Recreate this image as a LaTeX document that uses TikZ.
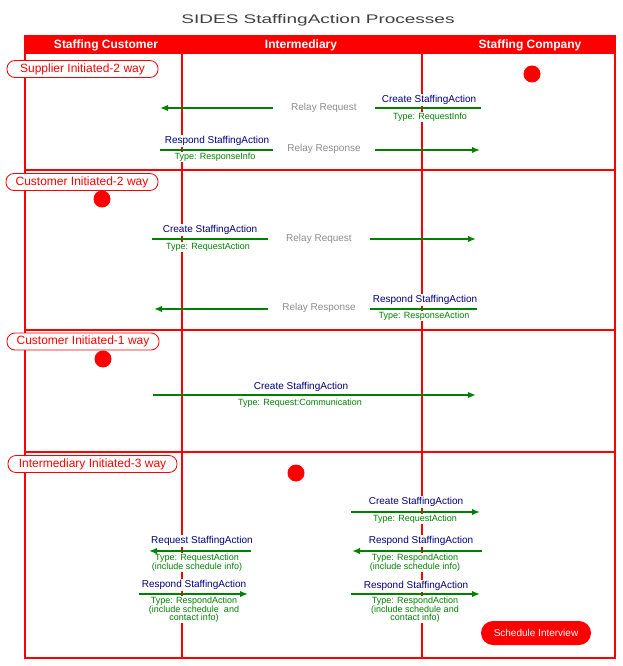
\documentclass[tikz,border=0pt]{standalone}
\usepackage{fontspec}
\setmainfont{Liberation Sans}
\usetikzlibrary{arrows.meta}
\definecolor{navyc}{RGB}{0,0,128}
\definecolor{msggreen}{RGB}{0,128,0}
\definecolor{relaygray}{RGB}{140,140,140}
\definecolor{purered}{RGB}{255,0,0}
\begin{document}
\begin{tikzpicture}[x=1pt,y=-1pt,
  frame/.style={draw=purered, line width=2pt},
  msg/.style={draw=msggreen, line width=2pt},
  msgarrow/.style={msg, -{Latex[length=8pt,width=6.5pt]}},
  lbl/.style={text=navyc, fill=white, inner xsep=1pt, inner ysep=1pt, font=\fontsize{10}{11}\selectfont},
  typ/.style={text=msggreen, fill=white, inner xsep=1pt, inner ysep=1pt, align=center, font=\fontsize{9}{8.4}\selectfont},
  relay/.style={text=relaygray, inner sep=0pt, minimum height=10pt, minimum width=102pt, font=\fontsize{10}{11}\selectfont},
  sect/.style={draw=purered, line width=0.8pt, fill=white, text=purered, rounded corners=8pt, minimum height=17pt, inner xsep=6pt, inner ysep=1pt, font=\fontsize{12}{13}\selectfont},
  hdr/.style={text=white, font=\bfseries\fontsize{12}{13}\selectfont, inner sep=0pt},
  dot/.style={circle, fill=purered, minimum size=17pt, inner sep=0pt},
  pill/.style={fill=purered, text=white, rounded corners=12pt, minimum width=110pt, minimum height=24pt, inner sep=0pt, font=\fontsize{10}{11}\selectfont}
]
\useasboundingbox (0,0) rectangle (623,666);

% title
\node (title) at (318,20) {\fontsize{12.5}{14}\selectfont\color{black!75}\scalebox{1.52}[1]{SIDES StaffingAction Processes}};

% header bar and frame
\fill[purered] (25,35) rectangle (615,54);
\node[hdr] (h1) at (106,45) {Staffing Customer};
\node[hdr] (h2) at (301,45) {Intermediary};
\node[hdr] (h3) at (530,45) {Staffing Company};
\draw[frame] (25,35) -- (25,658) -- (615,658) -- (615,35);
\draw[frame] (182,54) -- (182,658);
\draw[frame] (422,54) -- (422,658);
\draw[frame] (25,170) -- (615,170);
\draw[frame] (25,330) -- (615,330);
\draw[frame] (25,452) -- (615,452);

% section labels
\node[sect, minimum width=151pt] (s1) at (82.5,69) {Supplier Initiated-2 way};
\node[sect, minimum width=152pt] (s2) at (82,182) {Customer Initiated-2 way};
\node[sect, minimum width=152pt] (s3) at (83,341.5) {Customer Initiated-1 way};
\node[sect, minimum width=169pt] (s4) at (92.5,464) {Intermediary Initiated-3 way};

% dots
\node[dot] (d1) at (532,74) {};
\node[dot] (d2) at (102,199) {};
\node[dot] (d3) at (103,359) {};
\node[dot] (d4) at (296,473) {};

% ---------- section 1 ----------
\coordinate (c1a) at (481,108);
\coordinate (c1b) at (160,108);
\node[lbl] (l1a) at (429,100) {Create StaffingAction};
\node[typ] (t1a) at (430,117) {Type: RequestInfo};
\node[relay] (r1a) at (324,108) {Relay Request};
\draw[msg] (c1a) -- (r1a.east);
\draw[msgarrow] (r1a.west) -- (c1b);

\coordinate (c1c) at (160,150);
\coordinate (c1d) at (480,150);
\node[lbl] (l1b) at (217,141) {Respond StaffingAction};
\node[typ] (t1b) at (215,157) {Type: ResponseInfo};
\node[relay] (r1b) at (324,149) {Relay Response};
\draw[msg] (c1c) -- (r1b.west |- c1c);
\draw[msgarrow] (r1b.east |- c1c) -- (c1d);

% ---------- section 2 ----------
\coordinate (c2a) at (152,239);
\coordinate (c2b) at (476,239);
\node[lbl] (l2a) at (210,230) {Create StaffingAction};
\node[typ] (t2a) at (208,247) {Type: RequestAction};
\node[relay] (r2a) at (319,239) {Relay Request};
\draw[msg] (c2a) -- (r2a.west);
\draw[msgarrow] (r2a.east) -- (c2b);

\coordinate (c2c) at (477,309);
\coordinate (c2d) at (154,309);
\node[lbl] (l2b) at (425,300) {Respond StaffingAction};
\node[typ] (t2b) at (424,316) {Type: ResponseAction};
\node[relay] (r2b) at (319,308) {Relay Response};
\draw[msg] (c2c) -- (r2b.east |- c2c);
\draw[msgarrow] (r2b.west |- c2c) -- (c2d);

% ---------- section 3 ----------
\coordinate (c3a) at (153,395);
\coordinate (c3b) at (476,395);
\node[lbl] (l3a) at (301,387) {Create StaffingAction};
\node[typ] (t3a) at (300,403) {Type: Request:Communication};
\draw[msgarrow] (c3a) -- (c3b);

% ---------- section 4 ----------
\coordinate (c4a) at (251,551);
\coordinate (c4b) at (149,551);
\node[lbl] (l4a) at (202,541) {Request StaffingAction};
\node[typ, anchor=north] (t4a) at (197,553) {Type: RequestAction\\(include schedule info)};
\draw[msgarrow] (c4a) -- (c4b);

\coordinate (c4c) at (139,594);
\coordinate (c4d) at (248,594);
\node[lbl] (l4b) at (194,585) {Respond StaffingAction};
\node[typ, anchor=north] (t4b) at (194,596) {Type: RespondAction\\(include schedule\ \ and\\contact info)};
\draw[msgarrow] (c4c) -- (c4d);

\coordinate (c4e) at (351,512);
\coordinate (c4f) at (480,512);
\node[lbl] (l4c) at (416,502) {Create StaffingAction};
\node[typ] (t4c) at (415,519) {Type: RequestAction};
\draw[msgarrow] (c4e) -- (c4f);

\coordinate (c4g) at (482,551);
\coordinate (c4h) at (352,551);
\node[lbl] (l4d) at (421,541) {Respond StaffingAction};
\node[typ, anchor=north] (t4d) at (415,553) {Type: RespondAction\\(include schedule info)};
\draw[msgarrow] (c4g) -- (c4h);

\coordinate (c4i) at (351,594);
\coordinate (c4j) at (480,594);
\node[lbl] (l4e) at (416,586) {Respond StaffingAction};
\node[typ, anchor=north] (t4e) at (415,596) {Type: RespondAction\\(include schedule and\\contact info)};
\draw[msgarrow] (c4i) -- (c4j);

\node[pill] (sched) at (536,633) {Schedule Interview};
\end{tikzpicture}
\end{document}
